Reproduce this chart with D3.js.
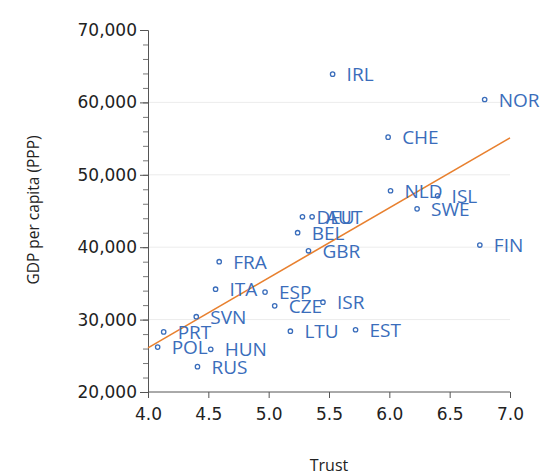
<!DOCTYPE html>
<html><head><meta charset="utf-8">
<script src="https://cdn.jsdelivr.net/npm/d3@7"></script>
<style>body{margin:0;background:#fff}</style>
</head><body><svg id="c" width="544" height="475"></svg>
<script>
const countries = ["IRL","NOR","CHE","NLD","ISL","SWE","FIN","DEU","AUT","BEL","GBR","FRA","ITA","ESP","CZE","ISR","SVN","PRT","POL","HUN","RUS","LTU","EST"];
const trust = [5.53,6.79,5.99,6.01,6.40,6.23,6.75,5.28,5.36,5.24,5.33,4.59,4.56,4.97,5.05,5.45,4.40,4.13,4.08,4.52,4.41,5.18,5.72];
const gdp = [63900,60400,55200,47800,47100,45300,40300,44200,44200,42000,39500,38000,34200,33800,31900,32400,30400,28300,26200,25900,23500,28400,28600];
const trendX = [4.0,7.0];
const trendY = [26100,55100];
const xTicks = [4.0,4.5,5.0,5.5,6.0,6.5,7.0];
const yTicks = [20000,30000,40000,50000,60000,70000];
const yMinor = d3.range(20000,70001,2000);
const gridY = [30000,40000,50000,60000];

const svg = d3.select("#c");
const x = d3.scaleLinear().domain([4,7]).range([148,510]);
const y = d3.scaleLinear().domain([20000,70000]).range([392,30]);
const fmt = d3.format(",");
const tickFont = "'DejaVu Sans', sans-serif";

svg.append("g").selectAll("line").data(gridY).join("line")
  .attr("x1",148).attr("x2",510).attr("y1",d=>y(d)).attr("y2",d=>y(d))
  .attr("stroke","#ececec").attr("stroke-width",1);

// y axis
const ya = svg.append("g").attr("transform","translate(148,0)")
  .call(d3.axisLeft(y).tickValues(yMinor).tickSize(5).tickFormat(""));
ya.select(".domain").attr("stroke","#555");
ya.selectAll(".tick line").attr("stroke","#777");
const yl = svg.append("g").attr("transform","translate(148,0)")
  .call(d3.axisLeft(y).tickValues(yTicks).tickSize(8).tickFormat(fmt).tickPadding(3));
yl.select(".domain").remove();
yl.selectAll(".tick line").attr("stroke","#555");
yl.selectAll("text").attr("font-family",tickFont).attr("font-size",17).attr("fill","#222");

// x axis
const xa = svg.append("g").attr("transform","translate(0,392)")
  .call(d3.axisBottom(x).tickValues(xTicks).tickSize(6).tickFormat(d3.format(".1f")).tickPadding(10));
xa.select(".domain").attr("stroke","#555").attr("d","M148,0H510");
xa.selectAll(".tick line").attr("stroke","#555");
xa.selectAll("text").attr("font-family",tickFont).attr("font-size",17).attr("fill","#222");

svg.append("text").attr("x",329).attr("y",471).attr("text-anchor","middle")
  .attr("font-family","'Open Sans', sans-serif").attr("font-size",16).attr("fill","#222").text("Trust");
svg.append("text").attr("transform","translate(39,210) rotate(-90)").attr("text-anchor","middle")
  .attr("font-family","'Open Sans', sans-serif").attr("font-size",15.5).attr("fill","#222").text("GDP per capita (PPP)");

// trend line
svg.append("line").attr("x1",x(trendX[0])).attr("y1",y(trendY[0])).attr("x2",x(trendX[1])).attr("y2",y(trendY[1]))
  .attr("stroke","#e8802f").attr("stroke-width",1.6);

const data = countries.map((c,i)=>({c, t:trust[i], g:gdp[i]}));
svg.append("g").selectAll("circle").data(data).join("circle")
  .attr("cx",d=>x(d.t)).attr("cy",d=>y(d.g)).attr("r",2.2)
  .attr("fill","#fff").attr("stroke","#3a6dbb").attr("stroke-width",1.3);
svg.append("g").selectAll("text").data(data).join("text")
  .attr("x",d=>x(d.t)+14).attr("y",d=>y(d.g)+7)
  .attr("font-family","'Open Sans', sans-serif").attr("font-size",19).attr("fill","#3a6dbb")
  .text(d=>d.c);
</script></body></html>
